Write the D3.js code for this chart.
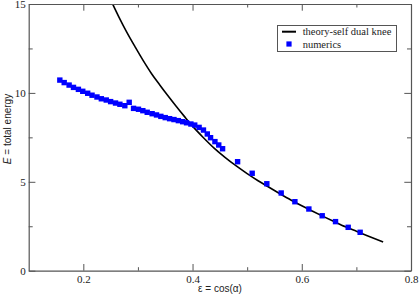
<!DOCTYPE html>
<html><head><meta charset="utf-8">
<script src="https://cdn.jsdelivr.net/npm/d3@7"></script>
<style>html,body{margin:0;padding:0;background:#fff;}svg{display:block;}
.serif{font-family:"Liberation Serif","Times New Roman",Times,serif;}
.sans{font-family:"Liberation Sans",Arial,Helvetica,sans-serif;}
</style>
</head><body>
<svg id="c" width="419" height="297"></svg>
<script>
// theory curve
const theoryEps = [0.2537,0.265,0.28,0.295,0.31,0.325,0.34,0.355,0.37,0.385,0.40,0.42,0.44,0.46,0.48,0.50,0.52,0.54,0.56,0.58,0.60,0.62,0.64,0.66,0.68,0.70,0.72,0.749];
const theoryE   = [15.0,14.28,13.39,12.58,11.80,11.08,10.45,9.84,9.25,8.68,8.13,7.48,6.88,6.36,5.89,5.46,5.06,4.69,4.33,3.98,3.65,3.34,3.04,2.75,2.47,2.22,1.97,1.62];
// numerics
const numEps = [0.157,0.165,0.174,0.182,0.191,0.199,0.208,0.216,0.225,0.233,0.242,0.250,0.259,0.267,0.276,0.284,0.292,0.301,0.309,0.317,0.326,0.334,0.342,0.350,0.358,0.366,0.374,0.382,0.389,0.397,0.404,0.412,0.420,0.427,0.433,0.441,0.448,0.455,
                0.4825,0.5092,0.536,0.5623,0.5874,0.613,0.6374,0.6618,0.685,0.7069];
const numE   = [10.72,10.58,10.44,10.31,10.20,10.09,9.98,9.87,9.77,9.67,9.60,9.51,9.43,9.36,9.28,9.47,9.13,9.08,9.00,8.91,8.83,8.76,8.68,8.61,8.55,8.50,8.44,8.38,8.32,8.25,8.19,8.06,7.91,7.69,7.48,7.26,7.07,6.86,
                6.13,5.48,4.89,4.37,3.88,3.47,3.09,2.76,2.44,2.16];
const xMajor = [0.2,0.4,0.6,0.8];
const xMinor = [0.3,0.5,0.7];
const yMajor = [0,5,10,15];
const yMinor = [2.5,7.5,12.5];
const legendLabels = ["theory-self dual knee","numerics"];

const L=28.7,R=411,T=4,B=270.7;
const svg=d3.select("#c");
const x=d3.scaleLinear().domain([0.1,0.8]).range([L,R]);
const y=d3.scaleLinear().domain([0,15]).range([B,T]);
const frameCol="#555";

svg.append("defs").append("clipPath").attr("id","clip").append("rect")
  .attr("x",L).attr("y",T).attr("width",R-L).attr("height",B-T);

// theory line
const line=d3.line().x((d,i)=>x(theoryEps[i])).y((d,i)=>y(theoryE[i])).curve(d3.curveMonotoneX);
svg.append("path").attr("d",line(theoryEps)).attr("fill","none").attr("stroke","#000")
  .attr("stroke-width",1.6).attr("clip-path","url(#clip)");

// numerics
const s=5.4;
svg.append("g").selectAll("rect").data(numEps).join("rect")
  .attr("x",(d)=>x(d)-s/2).attr("y",(d,i)=>y(numE[i])-s/2)
  .attr("width",s).attr("height",s).attr("fill","#0000ff");

// axes with ticks inside
function ax(gen,tx,ty,vals,len,labels){
  const g=svg.append("g").attr("transform",`translate(${tx},${ty})`)
    .call(gen.tickValues(vals).tickSize(len).tickSizeOuter(0).tickPadding(labels?4:0).tickFormat(labels?d3.format(""):()=>""));
  g.attr("font-family",null).attr("font-size",null).attr("class","serif");
  g.select(".domain").attr("stroke",frameCol).attr("stroke-width",1.2);
  g.selectAll(".tick line").attr("stroke",frameCol).attr("stroke-width",1);
  g.selectAll(".tick text").style("font-size","11px").attr("fill","#222");
  return g;
}
// bottom
const gb=ax(d3.axisBottom(x),0,B,xMajor,-6.7,true);
gb.selectAll(".tick text").attr("dy","0.71em").attr("y",5);
ax(d3.axisBottom(x),0,B,xMinor,-3.5,false).select(".domain").remove();
// top
ax(d3.axisTop(x),0,T,xMajor,-6.7,false);
ax(d3.axisTop(x),0,T,xMinor,-3.5,false).select(".domain").remove();
// left
const gl=ax(d3.axisLeft(y),L,0,yMajor,-6.7,true);
gl.selectAll(".tick text").attr("x",-3);
ax(d3.axisLeft(y),L,0,yMinor,-4,false).select(".domain").remove();
// right
ax(d3.axisRight(y),R,0,yMajor,-6.7,false);
ax(d3.axisRight(y),R,0,yMinor,-4,false).select(".domain").remove();

// axis labels
svg.append("text").attr("class","sans").attr("x",220).attr("y",292).attr("text-anchor","middle")
  .style("font-size","10px").attr("fill","#222").text("ε = cos(α)");
const yl=svg.append("text").attr("class","sans").attr("transform","translate(11,129) rotate(-90)").attr("text-anchor","middle")
  .style("font-size","10px").attr("fill","#222");
yl.append("tspan").attr("font-style","italic").text("E");
yl.append("tspan").text(" = total energy");

// legend
const lg=svg.append("g");
lg.append("rect").attr("x",277.5).attr("y",25.5).attr("width",119).attr("height",26)
  .attr("fill","#fff").attr("stroke",frameCol).attr("stroke-width",1);
lg.append("line").attr("x1",282).attr("x2",296).attr("y1",31.7).attr("y2",31.7).attr("stroke","#000").attr("stroke-width",2);
lg.append("rect").attr("x",289-2.6).attr("y",44-2.6).attr("width",5.2).attr("height",5.2).attr("fill","#0000ff");
lg.selectAll("text.lt").data(legendLabels).join("text").attr("class","lt serif")
  .attr("x",302.7).attr("y",(d,i)=>31.7+i*12.3).attr("dy","0.35em")
  .style("font-size","10.5px").attr("fill","#222").text(d=>d);
</script>
</body></html>
